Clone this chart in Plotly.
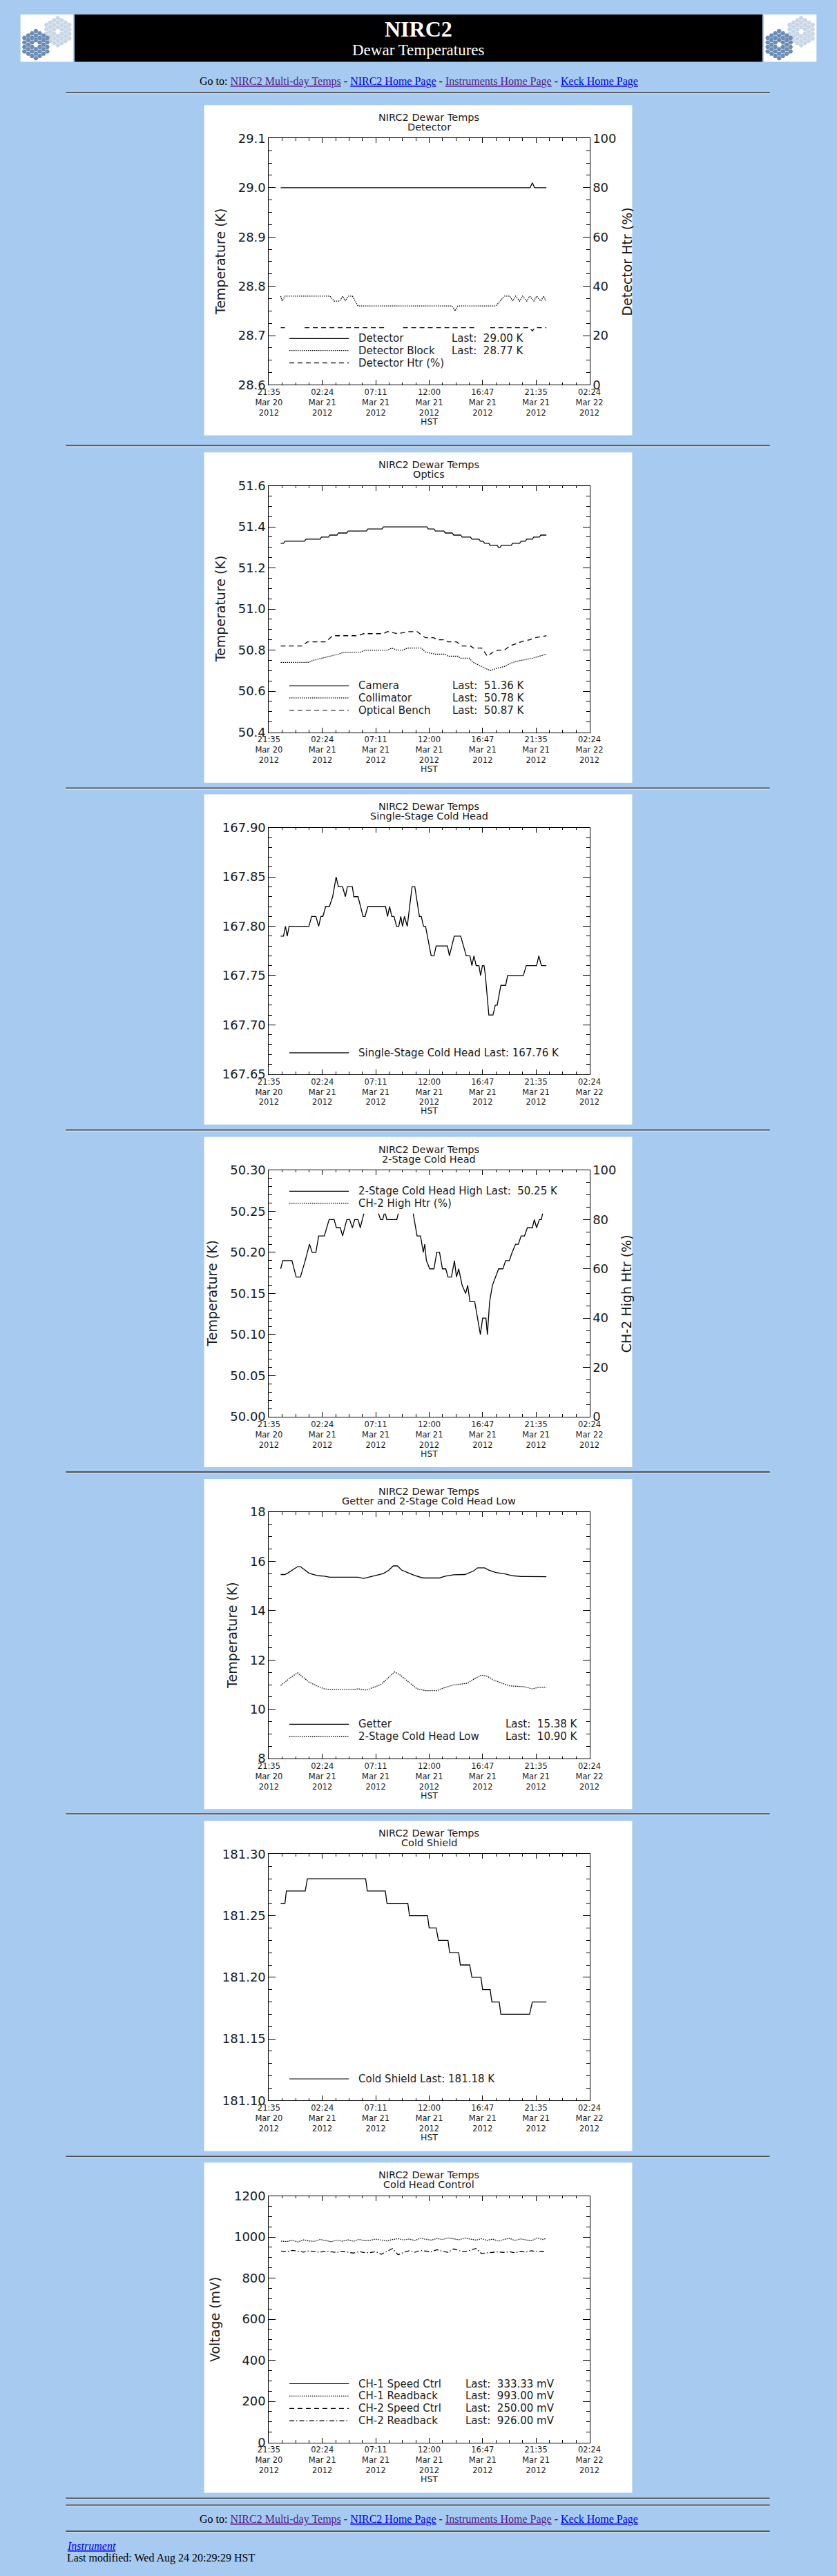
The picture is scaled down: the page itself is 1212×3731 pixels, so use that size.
"""
NIRC2 Dewar Temperatures page, redrawn with Plotly.

Seven IDL-style strip charts stacked on one light-blue page, with the
Keck header banner and the link/footer lines.
"""
import pandas as pd
import plotly.graph_objects as go

# ---- page geometry (pixels) ----
W, H = 1212, 3731
PAGE_BG = "#A6CAF0"
INK = "#1a1a1a"
PLOT_FONT = "DejaVu Sans"
PAGE_FONT = "Liberation Serif"

PANEL_TOPS = [142, 648, 1146, 1645, 2143, 2641, 3139]
PANEL_X0, PANEL_X1, PANEL_H = 285, 926, 481
PLOT_X0, PLOT_X1 = 382, 862
PLOT_TOP, PLOT_BOTTOM = 48.5, 407.5      # relative to panel top
RULES = [124, 638, 1137, 1635, 2133, 2631, 3130, 3628, 3638, 3676]

# ---- time axis (hours after 2012-03-20 00:00 HST) ----
TICK_HOURS = [21.6, 26.4, 31.2, 36.0, 40.8, 45.6, 50.4]
TICK_CLOCK = ["21:35", "02:24", "07:11", "12:00", "16:47", "21:35", "02:24"]
TICK_DAY = ["Mar 20", "Mar 21", "Mar 21", "Mar 21", "Mar 21", "Mar 21", "Mar 22"]

# ---- data: (hour, value) ----
DETECTOR = [(22.66, 29.00), (45.07, 29.00), (45.27, 29.01), (45.47, 29.00), (46.53, 29.00)]
DET_BLOCK = [(22.66, 28.78), (22.79, 28.77), (23.04, 28.78), (27.08, 28.78), (27.46, 28.77),
             (27.97, 28.77), (28.22, 28.78), (28.47, 28.77), (28.72, 28.78), (29.10, 28.78),
             (29.61, 28.76), (38.07, 28.76), (38.32, 28.75), (38.58, 28.76), (41.99, 28.76),
             (42.37, 28.77), (42.75, 28.78), (43.25, 28.78), (43.50, 28.77), (43.76, 28.78),
             (44.13, 28.77), (44.39, 28.78), (44.77, 28.77), (45.02, 28.78), (45.40, 28.77),
             (45.65, 28.78), (46.03, 28.77), (46.28, 28.78), (46.48, 28.77)]
DET_HTR = [(22.66, 23.2), (23.04, 23.2), (23.9, None), (24.81, 23.2), (32.13, 23.2), (32.9, None),
           (33.65, 23.2), (40.22, 23.2), (40.85, None), (41.48, 23.2), (45.02, 23.2),
           (45.27, 21.9), (45.52, 23.2), (46.53, 23.2)]

CAMERA = [(22.66, 51.32), (22.92, 51.32), (23.04, 51.33), (24.81, 51.33), (24.93, 51.34),
          (26.2, 51.34), (26.32, 51.35), (26.96, 51.35), (27.08, 51.36), (27.72, 51.36),
          (27.84, 51.37), (28.6, 51.37), (28.72, 51.38), (30.37, 51.38), (30.49, 51.39),
          (31.76, 51.39), (31.88, 51.40), (35.8, 51.40), (35.92, 51.39), (36.43, 51.39),
          (36.56, 51.38), (37.32, 51.38), (37.44, 51.37), (38.07, 51.37), (38.2, 51.36),
          (38.83, 51.36), (38.96, 51.35), (39.71, 51.35), (39.84, 51.34), (40.47, 51.34),
          (40.6, 51.33), (40.85, 51.33), (40.98, 51.32), (41.36, 51.32), (41.48, 51.31),
          (42.11, 51.31), (42.24, 51.30), (42.37, 51.30), (42.49, 51.31), (43.37, 51.31),
          (43.5, 51.32), (44.13, 51.32), (44.26, 51.33), (44.64, 51.33), (44.77, 51.34),
          (45.27, 51.34), (45.4, 51.35), (45.9, 51.35), (46.03, 51.36), (46.53, 51.36)]
COLLIMATOR = [(22.66, 50.74), (25.19, 50.74), (25.57, 50.75), (26.32, 50.76), (27.08, 50.77),
              (27.84, 50.78), (28.35, 50.79), (29.86, 50.79), (30.24, 50.80), (32.26, 50.80),
              (32.64, 50.81), (33.09, 50.80), (33.65, 50.80), (34.03, 50.81), (35.29, 50.81),
              (35.67, 50.79), (36.56, 50.78), (37.44, 50.78), (37.69, 50.77), (38.58, 50.77),
              (38.83, 50.76), (39.59, 50.76), (39.97, 50.74), (40.72, 50.72), (41.48, 50.70),
              (41.99, 50.71), (42.75, 50.72), (43.50, 50.74), (44.26, 50.75), (45.27, 50.76),
              (46.53, 50.78)]
OPT_BENCH = [(22.66, 50.82), (24.56, 50.82), (25.06, 50.84), (26.70, 50.84), (27.33, 50.87),
             (29.61, 50.87), (30.11, 50.88), (31.88, 50.88), (32.26, 50.89), (33.15, 50.88),
             (34.16, 50.89), (34.91, 50.89), (35.67, 50.86), (36.43, 50.86), (36.68, 50.85),
             (37.44, 50.85), (37.69, 50.84), (38.45, 50.84), (38.96, 50.82), (39.71, 50.82),
             (39.97, 50.81), (40.72, 50.81), (40.98, 50.79), (41.23, 50.77), (41.73, 50.79),
             (42.24, 50.80), (42.75, 50.80), (43.25, 50.82), (44.26, 50.84), (45.02, 50.85),
             (45.52, 50.86), (46.53, 50.87)]

SINGLE_STAGE = [(22.66, 167.79), (22.91, 167.79), (23.09, 167.80), (23.24, 167.79), (23.42, 167.80),
                (25.19, 167.80), (25.44, 167.81), (25.82, 167.81), (26.07, 167.80), (26.27, 167.81),
                (26.45, 167.81), (26.70, 167.82), (27.03, 167.82), (27.33, 167.83), (27.64, 167.85),
                (27.84, 167.84), (28.22, 167.84), (28.47, 167.83), (28.65, 167.84), (29.10, 167.84),
                (29.23, 167.83), (29.61, 167.83), (30.06, 167.81), (30.24, 167.81), (30.49, 167.82),
                (32.08, 167.82), (32.26, 167.81), (32.44, 167.82), (32.64, 167.81), (32.84, 167.81),
                (33.07, 167.80), (33.27, 167.80), (33.45, 167.81), (33.60, 167.80), (33.78, 167.81),
                (34.03, 167.80), (34.46, 167.84), (34.71, 167.84), (35.12, 167.81), (35.29, 167.81),
                (35.49, 167.80), (35.67, 167.80), (36.18, 167.77), (36.43, 167.77), (36.63, 167.78),
                (37.64, 167.78), (37.82, 167.77), (38.25, 167.79), (38.83, 167.79), (39.33, 167.77),
                (39.66, 167.77), (39.84, 167.76), (40.02, 167.77), (40.22, 167.76), (40.47, 167.76),
                (40.62, 167.75), (40.78, 167.76), (40.93, 167.76), (41.05, 167.75), (41.36, 167.71),
                (41.73, 167.71), (41.94, 167.72), (42.11, 167.72), (42.44, 167.74), (42.87, 167.74),
                (43.05, 167.75), (44.46, 167.75), (44.72, 167.76), (45.65, 167.76), (45.85, 167.77),
                (46.08, 167.76), (46.53, 167.76)]

TWO_STAGE_HIGH = [(22.66, 50.18), (22.84, 50.19), (23.67, 50.19), (24.05, 50.17), (24.43, 50.17),
                  (24.86, 50.19), (25.24, 50.21), (25.49, 50.20), (25.82, 50.20), (26.07, 50.22),
                  (26.58, 50.22), (27.01, 50.24), (27.46, 50.24), (27.66, 50.23), (28.02, 50.23),
                  (28.22, 50.22), (28.60, 50.24), (28.85, 50.24), (29.10, 50.23), (29.31, 50.24),
                  (29.61, 50.24), (29.81, 50.23), (29.99, 50.24), (30.19, 50.25), (30.49, 50.26),
                  (31.12, 50.26), (31.38, 50.25), (31.63, 50.24), (31.83, 50.24), (32.01, 50.25),
                  (32.19, 50.24), (33.09, 50.24), (33.27, 50.25), (33.52, 50.26), (34.28, 50.26),
                  (34.53, 50.25), (34.91, 50.22), (35.22, 50.22), (35.47, 50.20), (35.60, 50.21),
                  (35.75, 50.19), (36.05, 50.18), (36.43, 50.18), (36.68, 50.20), (36.93, 50.20),
                  (37.19, 50.18), (37.49, 50.18), (37.69, 50.17), (38.00, 50.17), (38.27, 50.19),
                  (38.45, 50.17), (38.65, 50.18), (38.96, 50.16), (39.28, 50.15), (39.46, 50.16),
                  (39.66, 50.14), (40.09, 50.14), (40.35, 50.12), (40.60, 50.10), (40.80, 50.12),
                  (41.10, 50.12), (41.23, 50.10), (41.43, 50.14), (41.68, 50.16), (41.94, 50.17),
                  (42.24, 50.18), (42.62, 50.18), (42.87, 50.19), (43.20, 50.19), (43.45, 50.20),
                  (43.76, 50.21), (44.01, 50.21), (44.26, 50.22), (44.56, 50.22), (44.82, 50.23),
                  (45.27, 50.23), (45.45, 50.24), (45.65, 50.23), (45.90, 50.24), (46.08, 50.24),
                  (46.23, 50.25)]
CH2_HIGH_HTR = []   # heater trace is hidden behind the legend in the original

GETTER = [(22.66, 15.47), (23.04, 15.47), (23.29, 15.53), (23.67, 15.65), (24.18, 15.79),
          (24.43, 15.79), (24.81, 15.65), (25.19, 15.53), (25.57, 15.47), (26.07, 15.42),
          (26.58, 15.40), (27.08, 15.36), (28.60, 15.36), (29.10, 15.37), (29.61, 15.36),
          (30.11, 15.31), (30.62, 15.37), (31.12, 15.44), (31.88, 15.51), (32.39, 15.65),
          (32.77, 15.82), (33.15, 15.82), (33.52, 15.65), (34.16, 15.53), (34.66, 15.44),
          (35.42, 15.33), (36.93, 15.33), (37.44, 15.40), (38.20, 15.46), (39.21, 15.47),
          (39.97, 15.61), (40.35, 15.74), (40.98, 15.74), (41.36, 15.65), (41.99, 15.55),
          (42.75, 15.50), (43.50, 15.42), (44.26, 15.39), (45.02, 15.38), (46.53, 15.38)]
TWO_STAGE_LOW = [(22.66, 10.97), (23.04, 11.11), (23.55, 11.29), (24.18, 11.48), (24.56, 11.34),
                 (25.19, 11.11), (25.82, 10.97), (26.58, 10.83), (27.33, 10.80), (29.10, 10.80),
                 (29.61, 10.83), (30.37, 10.78), (30.87, 10.87), (31.63, 11.00), (32.13, 11.20),
                 (32.89, 11.52), (33.40, 11.39), (34.16, 11.11), (34.91, 10.83), (35.67, 10.76),
                 (36.68, 10.76), (37.44, 10.89), (38.20, 10.99), (39.46, 11.06), (40.09, 11.25),
                 (40.72, 11.39), (41.23, 11.34), (41.86, 11.17), (42.49, 11.06), (43.25, 10.95),
                 (44.51, 10.92), (45.27, 10.83), (45.78, 10.89), (46.53, 10.90)]

COLD_SHIELD = [(22.66, 181.26), (23.04, 181.26), (23.17, 181.27), (24.86, 181.27), (25.06, 181.28),
               (30.29, 181.28), (30.44, 181.27), (32.06, 181.27), (32.21, 181.26), (34.08, 181.26),
               (34.23, 181.25), (35.85, 181.25), (36.00, 181.24), (36.63, 181.24), (36.83, 181.23),
               (37.69, 181.23), (37.84, 181.22), (38.65, 181.22), (38.80, 181.21), (39.64, 181.21),
               (39.84, 181.20), (40.65, 181.20), (40.80, 181.19), (41.48, 181.19), (41.63, 181.18),
               (42.29, 181.18), (42.44, 181.17), (45.02, 181.17), (45.27, 181.18), (46.53, 181.18)]

RB_HOURS = [22.7, 23.2, 23.7, 24.2, 24.7, 25.2, 25.7, 26.2, 26.7, 27.2,
            27.7, 28.2, 28.7, 29.2, 29.7, 30.2, 30.7, 31.2, 31.7, 32.2,
            32.7, 33.2, 33.7, 34.2, 34.7, 35.2, 35.7, 36.2, 36.7, 37.2,
            37.7, 38.2, 38.7, 39.2, 39.7, 40.2, 40.7, 41.2, 41.7, 42.2,
            42.7, 43.2, 43.7, 44.2, 44.7, 45.2, 45.7, 46.2, 46.5]
CH1_READBACK = [980, 978, 984, 976, 986, 981, 979, 988, 983, 977,
                985, 980, 986, 979, 989, 982, 984, 990, 985, 981,
                988, 992, 986, 990, 983, 994, 989, 985, 993, 988,
                996, 991, 987, 995, 990, 985, 992, 984, 990, 980,
                988, 994, 983, 991, 986, 982, 995, 988, 993]
CH2_READBACK = [932, 928, 935, 930, 927, 933, 929, 926, 931, 928,
                925, 930, 927, 922, 929, 924, 924, 929, 916, 930,
                944, 914, 925, 933, 926, 935, 932, 928, 938, 930,
                926, 942, 933, 929, 936, 944, 920, 922, 924, 928,
                925, 929, 923, 930, 927, 933, 929, 931, 926]

DASHES = {"solid": "solid", "dot": "1.5px,1.5px", "dash": "7px,5px", "dashdot": "7px,3px,1.5px,3px"}


def fx(px):
    return px / W


def fy(py):
    return 1 - py / H


def to_time(h):
    return pd.Timestamp("2012-03-20") + pd.Timedelta(hours=h)


def pairs(series):
    return [to_time(p[0]) for p in series], [p[1] for p in series]


CHARTS = [
    dict(subtitle="Detector", yrange=[28.6, 29.1], dtick=0.1, minor=0.025, fmt=".1f",
         ytitle="Temperature (K)", ytitle_x=309.5, y2title="Detector Htr (%)",
         series=[(pairs(DETECTOR), "solid", False), (pairs(DET_BLOCK), "dot", False),
                 (pairs(DET_HTR), "dash", True)],
         legend=[("Detector", "solid", "Last:  29.00 K"),
                 ("Detector Block", "dot", "Last:  28.77 K"),
                 ("Detector Htr (%)", "dash", "")],
         legend_y=[340, 357.5, 375.5], last_x=766),
    dict(subtitle="Optics", yrange=[50.4, 51.6], dtick=0.2, minor=0.05, fmt=".1f",
         ytitle="Temperature (K)", ytitle_x=309.5,
         series=[(pairs(CAMERA), "solid", False), (pairs(COLLIMATOR), "dot", False),
                 (pairs(OPT_BENCH), "dash", False)],
         legend=[("Camera", "solid", "Last:  51.36 K"),
                 ("Collimator", "dot", "Last:  50.78 K"),
                 ("Optical Bench", "dash", "Last:  50.87 K")],
         legend_y=[340, 357.5, 375.5], last_x=767),
    dict(subtitle="Single-Stage Cold Head", yrange=[167.65, 167.90], dtick=0.05, minor=0.01,
         fmt=".2f", ytitle=None,
         series=[(pairs(SINGLE_STAGE), "solid", False)],
         legend=[("Single-Stage Cold Head Last: 167.76 K", "solid", "")],
         legend_y=[376.5], last_x=None),
    dict(subtitle="2-Stage Cold Head", yrange=[50.0, 50.3], dtick=0.05, minor=0.01, fmt=".2f",
         ytitle="Temperature (K)", ytitle_x=297, y2title="CH-2 High Htr (%)",
         series=[(pairs(TWO_STAGE_HIGH), "solid", False), (pairs(CH2_HIGH_HTR), "dot", True)],
         legend=[("2-Stage Cold Head High Last:  50.25 K", "solid", ""),
                 ("CH-2 High Htr (%)", "dot", "")],
         legend_y=[79, 96.7], last_x=None, mask=[50.2473, 50.294]),
    dict(subtitle="Getter and 2-Stage Cold Head Low", yrange=[8, 18], dtick=2, minor=0.5, fmt="d",
         ytitle="Temperature (K)", ytitle_x=326,
         series=[(pairs(GETTER), "solid", False), (pairs(TWO_STAGE_LOW), "dot", False)],
         legend=[("Getter", "solid", "Last:  15.38 K"),
                 ("2-Stage Cold Head Low", "dot", "Last:  10.90 K")],
         legend_y=[357.5, 375.5], last_x=847),
    dict(subtitle="Cold Shield", yrange=[181.10, 181.30], dtick=0.05, minor=0.01, fmt=".2f",
         ytitle=None,
         series=[(pairs(COLD_SHIELD), "solid", False)],
         legend=[("Cold Shield Last: 181.18 K", "solid", "")],
         legend_y=[376], last_x=None),
    dict(subtitle="Cold Head Control", yrange=[0, 1200], dtick=200, minor=50, fmt="d",
         ytitle="Voltage (mV)", ytitle_x=301,
         series=[(([to_time(h) for h in RB_HOURS], CH1_READBACK), "dot", False),
                 (([to_time(h) for h in RB_HOURS], CH2_READBACK), "dashdot", False)],
         legend=[("CH-1 Speed Ctrl", "solid", "Last:  333.33 mV"),
                 ("CH-1 Readback", "dot", "Last:  993.00 mV"),
                 ("CH-2 Speed Ctrl", "dash", "Last:  250.00 mV"),
                 ("CH-2 Readback", "dashdot", "Last:  926.00 mV")],
         legend_y=[322, 340, 358, 376], last_x=812),
]

fig = go.Figure()
layout = {}
shapes = []
annotations = []


def text(x, y, s, size, family=PLOT_FONT, color=INK, xanchor="center", yanchor="middle", angle=0):
    annotations.append(dict(x=fx(x), y=fy(y), xref="paper", yref="paper", text=s, showarrow=False,
                            xanchor=xanchor, yanchor=yanchor, textangle=angle,
                            font=dict(family=family, size=size, color=color)))


def rect(x0, y0, x1, y1, color, layer="below"):
    shapes.append(dict(type="rect", xref="paper", yref="paper", x0=fx(x0), x1=fx(x1),
                       y0=fy(y1), y1=fy(y0), fillcolor=color, line=dict(width=0), layer=layer))


def hline(x0, x1, y, color, width, dash="solid", layer="below"):
    shapes.append(dict(type="line", xref="paper", yref="paper", x0=fx(x0), x1=fx(x1),
                       y0=fy(y), y1=fy(y), line=dict(color=color, width=width, dash=dash),
                       layer=layer))


# ---- header banner ----
rect(10, 10, 89, 79, "white")
rect(91, 10, 1121, 79, "black")
rect(1123, 10, 1202, 79, "white")
text(606, 31.5, "<b>NIRC2</b>", 32, PAGE_FONT, "white")
text(606, 62, "Dewar Temperatures", 23, PAGE_FONT, "white")


def keck_mirror(cx, cy, s=3.8):
    xs, ys = [], []
    for q in range(-3, 4):
        for r in range(-3, 4):
            if abs(q + r) > 3 or (q == 0 and r == 0):
                continue
            xs.append(cx + 1.5 * s * q)
            ys.append(cy + 3 ** 0.5 * s * (r + q / 2))
    return xs, ys


for dx in (0, 1113):
    for (cx, cy), col in (((66 + dx, 35), "#c9d6e6"), ((33 + dx, 54), "#6b8db5")):
        hx, hy = keck_mirror(cx, cy)
        fig.add_trace(go.Scatter(x=hx, y=hy, mode="markers", xaxis="x10", yaxis="y10",
                                 marker=dict(symbol="hexagon2", size=7, color=col, line_width=0),
                                 hoverinfo="skip", showlegend=False))
layout["xaxis10"] = dict(domain=[0, 1], range=[0, W], visible=False, fixedrange=True)
layout["yaxis10"] = dict(domain=[fy(90), 1], range=[90, 0], visible=False, fixedrange=True)

GO_TO = ("Go to: <span style='color:#551A8B'><u>NIRC2 Multi-day Temps</u></span> - "
         "<span style='color:#0000EE'><u>NIRC2 Home Page</u></span> - "
         "<span style='color:#551A8B'><u>Instruments Home Page</u></span> - "
         "<span style='color:#0000EE'><u>Keck Home Page</u></span>")
text(606, 108, GO_TO, 16, PAGE_FONT, "black")

# ---- horizontal rules ----
for y in RULES:
    hline(78, 1132, y, "#4f4f4f", 2)
    hline(78, 1132, y + 1.5, "#e4ecf5", 1)

# ---- footer ----
text(606, 3659, GO_TO, 16, PAGE_FONT, "black")
text(78, 3697, "<i><u>Instrument</u></i>", 16, PAGE_FONT, "#0000EE", xanchor="left")
text(78, 3715, "Last modified: Wed Aug 24 20:29:29 HST", 16, PAGE_FONT, "black", xanchor="left")

# ---- the seven strip charts ----
tick_text = [f"{c}<br>{d}<br>2012" for c, d in zip(TICK_CLOCK, TICK_DAY)]
tick_font = dict(family=PLOT_FONT, size=18, color=INK)
y2_next = 8

for i, c in enumerate(CHARTS):
    n = i + 1
    top = PANEL_TOPS[i]
    xa, ya = ("x", "y") if n == 1 else (f"x{n}", f"y{n}")
    has_y2 = "y2title" in c
    y_dom = [fy(top + PLOT_BOTTOM), fy(top + PLOT_TOP)]

    rect(PANEL_X0, top, PANEL_X1, top + PANEL_H, "white")

    layout["xaxis" if n == 1 else f"xaxis{n}"] = dict(
        domain=[fx(PLOT_X0), fx(PLOT_X1)], anchor=ya, type="date",
        range=[to_time(TICK_HOURS[0]), to_time(TICK_HOURS[-1])],
        tickmode="array", tickvals=[to_time(h) for h in TICK_HOURS], ticktext=tick_text,
        ticks="inside", ticklen=7, tickwidth=1, tickcolor="black",
        minor=dict(ticks="inside", ticklen=3.5, tickwidth=1, tickcolor="black",
                   dtick=1.2 * 3600 * 1000, tick0=str(to_time(TICK_HOURS[0]))),
        showline=True, linecolor="black", linewidth=1, mirror="ticks",
        showgrid=False, zeroline=False, fixedrange=True,
        tickfont=dict(family=PLOT_FONT, size=11.5, color=INK))
    layout["yaxis" if n == 1 else f"yaxis{n}"] = dict(
        domain=y_dom, anchor=xa, range=c["yrange"], tick0=c["yrange"][0], dtick=c["dtick"],
        tickformat=c["fmt"], ticks="inside", ticklen=9.5, tickwidth=1, tickcolor="black",
        minor=dict(ticks="inside", ticklen=4.5, tickwidth=1, tickcolor="black",
                   dtick=c["minor"], tick0=c["yrange"][0]),
        showline=True, linecolor="black", linewidth=1, mirror=True if has_y2 else "ticks",
        showgrid=False, zeroline=False, fixedrange=True, tickfont=tick_font)

    y2 = None
    if has_y2:
        y2 = f"y{y2_next}"
        layout[f"yaxis{y2_next}"] = dict(
            overlaying=ya, side="right", anchor=xa, range=[0, 100], tick0=0, dtick=20,
            tickformat="d", ticks="inside", ticklen=9.5, tickwidth=1, tickcolor="black",
            minor=dict(ticks="inside", ticklen=4.5, tickwidth=1, tickcolor="black", dtick=5, tick0=0),
            showline=True, linecolor="black", linewidth=1,
            showgrid=False, zeroline=False, fixedrange=True, tickfont=tick_font)
        y2_next += 1

    for (xs, vs), dash, on_y2 in c["series"]:
        fig.add_trace(go.Scatter(x=xs, y=vs, mode="lines", xaxis=xa, yaxis=y2 if on_y2 else ya,
                                 line=dict(color="black", width=1.3, dash=DASHES[dash]),
                                 connectgaps=False, hoverinfo="skip", showlegend=False))

    # titles
    text(622, top + 18, "NIRC2 Dewar Temps", 14.5)
    text(622, top + 32, c["subtitle"], 14.5)
    text(622, top + 461, "HST", 12.5)
    if c.get("ytitle"):
        text(c["ytitle_x"], top + 228, c["ytitle"], 19, angle=-90)
    if has_y2:
        text(918, top + 228, c["y2title"], 19, angle=-90)

    # legend: erase box (2-stage chart), line samples, labels
    if "mask" in c:
        shapes.append(dict(type="rect", xref=f"{xa} domain", yref=ya, x0=0.022, x1=0.978,
                           y0=c["mask"][0], y1=c["mask"][1], fillcolor="white",
                           line=dict(width=0), layer="above"))
    for (name, dash, last), ry in zip(c["legend"], c["legend_y"]):
        hline(412.6, 501.8, top + ry, "black", 1.2, DASHES[dash], layer="above")
        text(514.4, top + ry, name, 15, xanchor="left")
        if last:
            text(c["last_x"], top + ry, last, 15, xanchor="right")

fig.update_layout(
    width=W, height=H, margin=dict(l=0, r=0, t=0, b=0, pad=0),
    paper_bgcolor=PAGE_BG, plot_bgcolor="rgba(0,0,0,0)",
    showlegend=False, hovermode=False,
    shapes=shapes, annotations=annotations, **layout)

fig.write_html("out.html", config={"displayModeBar": False},
               post_script="document.body.style.margin='0';"
                           "document.body.style.background='#A6CAF0';")
